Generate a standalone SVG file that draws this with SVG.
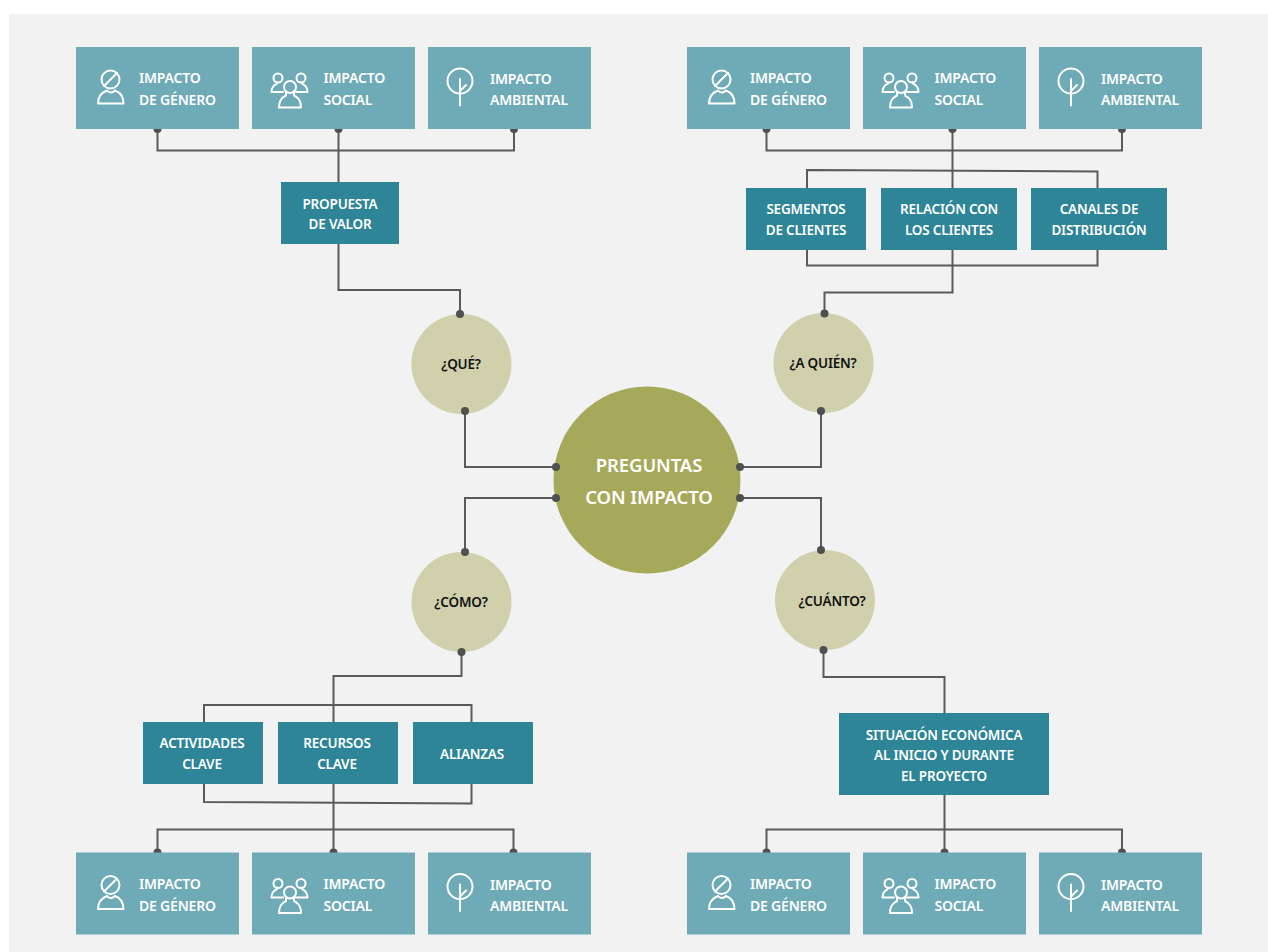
<svg xmlns="http://www.w3.org/2000/svg" width="1268" height="952" viewBox="0 0 1268 952">
<style>
text{font-family:"Noto Sans","Open Sans","Liberation Sans",sans-serif;font-weight:600;fill:#fff}
.i{font-size:14px;letter-spacing:-.2px}
.b{font-size:13.5px;text-anchor:middle;letter-spacing:-.2px}
.q{font-size:13.5px;text-anchor:middle;fill:#111;letter-spacing:-.2px}
.c{font-size:18.5px;text-anchor:middle;letter-spacing:-.1px}
.lt{fill:#6faab7}.dk{fill:#2d8597}.qc{fill:#d0d1ac}
.ic{fill:none;stroke:#fff;stroke-width:2;stroke-linejoin:round;stroke-linecap:round}
.ln{fill:none;stroke:#5a5a5a;stroke-width:2}
.dt{fill:#505050}
</style>
<defs>
<g id="icon-g" class="ic">
<circle cx="110.500" cy="79.500" r="9"/><path d="M104 86L117 73"/>
<path d="M98 103.500C98 95 103 92 107 90.500C109 93 112.500 93 115 90.500C119 92 123.500 95 123.500 103.500Z"/>
</g>
<g id="icon-s" class="ic">
<circle cx="278" cy="78" r="4.500"/><circle cx="301" cy="78" r="4.500"/><circle cx="290" cy="87" r="6"/>
<path d="M283 92H271.500C271.500 87 274 85.500 277 83.500V82M296 92H307.500C307.500 87 305 85.500 302 83.500V82"/>
<path d="M279 107.500C279 100 282 97.500 286 95.500V92M301 107.500C301 100 298 97.500 294 95.500V92M279 107.500H301"/>
</g>
<g id="icon-t" class="ic">
<circle cx="460" cy="81" r="12.500"/><path d="M460 105.500V79M460 91L466 85"/>
</g>
<g id="impact">
<rect class="lt" x="76" y="47" width="163" height="82"/>
<rect class="lt" x="252" y="47" width="163" height="82"/>
<rect class="lt" x="428" y="47" width="163" height="82"/>
<use href="#icon-g"/><use href="#icon-s"/><use href="#icon-t"/>
<text class="i" x="139" y="83">IMPACTO</text><text class="i" x="139" y="105">DE GÉNERO</text>
<text class="i" x="323.500" y="83">IMPACTO</text><text class="i" x="323.500" y="105">SOCIAL</text>
<text class="i" x="490" y="84">IMPACTO</text><text class="i" x="490" y="105">AMBIENTAL</text>
</g>
</defs>
<rect x="9" y="14" width="1259" height="938" fill="#f2f2f2"/>
<g id="connectors">
<path class="ln" d="M157.500 129V150.500H514V129M338.500 129V182M338.500 244V290H460V314"/>
<path class="ln" d="M465 411V467H556M556 498H465V552M461.500 652V676H333.500V722M204 722V705H471.500V722M204 784V802L471.500 803.500V784M333.500 784V852M157.500 852V829.500H513.500V852"/>
<path class="ln" d="M766.500 129V150.500H1122V129M952.500 129V188M807 188V170L1097.500 171.500V188M807 250V265.500H1097.500V250M952.500 250V292.500H824.500V313M821 411V467H740M740 498H821V550M823.500 650V677H944.500V713M944.500 795V852M766.500 852V829.500H1122V852"/>
<g class="dt">
<circle cx="157.500" cy="129" r="4"/><circle cx="338.500" cy="129" r="4"/><circle cx="514" cy="129" r="4"/>
<circle cx="766.500" cy="129" r="4"/><circle cx="952.500" cy="129" r="4"/><circle cx="1122" cy="129" r="4"/>
<circle cx="157.500" cy="852.500" r="4"/><circle cx="333.500" cy="852.500" r="4"/><circle cx="513.500" cy="852.500" r="4"/>
<circle cx="766.500" cy="852.500" r="4"/><circle cx="944.500" cy="852.500" r="4"/><circle cx="1122" cy="852.500" r="4"/>
</g>
</g>
<g id="impact-top-left"><use href="#impact"/></g>
<g id="impact-top-right"><use href="#impact" x="611"/></g>
<g id="impact-bottom-left"><use href="#impact" y="805.500"/></g>
<g id="impact-bottom-right"><use href="#impact" x="611" y="805.500"/></g>
<g id="propuesta"><rect class="dk" x="281" y="182" width="118" height="62"/><text class="b" x="340" y="209">PROPUESTA</text><text class="b" x="340" y="229">DE VALOR</text></g>
<g id="segmentos"><rect class="dk" x="746" y="188" width="120" height="62"/><text class="b" x="806" y="214">SEGMENTOS</text><text class="b" x="806" y="235">DE CLIENTES</text></g>
<g id="relacion"><rect class="dk" x="881" y="188" width="136" height="62"/><text class="b" x="949" y="214">RELACIÓN CON</text><text class="b" x="949" y="235">LOS CLIENTES</text></g>
<g id="canales"><rect class="dk" x="1031" y="188" width="136" height="62"/><text class="b" x="1099" y="214">CANALES DE</text><text class="b" x="1099" y="235">DISTRIBUCIÓN</text></g>
<g id="actividades"><rect class="dk" x="143" y="722" width="120" height="62"/><text class="b" x="202" y="748">ACTIVIDADES</text><text class="b" x="202" y="769">CLAVE</text></g>
<g id="recursos"><rect class="dk" x="278" y="722" width="120" height="62"/><text class="b" x="337" y="748">RECURSOS</text><text class="b" x="337" y="769">CLAVE</text></g>
<g id="alianzas"><rect class="dk" x="413" y="722" width="120" height="62"/><text class="b" x="472" y="759">ALIANZAS</text></g>
<g id="situacion"><rect class="dk" x="839" y="713" width="210" height="82"/><text class="b" x="944" y="740">SITUACIÓN ECONÓMICA</text><text class="b" x="944" y="760">AL INICIO Y DURANTE</text><text class="b" x="944" y="781">EL PROYECTO</text></g>
<g id="que"><circle class="qc" cx="461.500" cy="364" r="50"/><text class="q" x="461" y="369">¿QUÉ?</text><circle class="dt" cx="460" cy="314" r="4"/><circle class="dt" cx="465" cy="411" r="4"/></g>
<g id="quien"><circle class="qc" cx="823.500" cy="363" r="50"/><text class="q" x="823" y="368">¿A QUIÉN?</text><circle class="dt" cx="824.500" cy="313.500" r="4"/><circle class="dt" cx="821" cy="411" r="4"/></g>
<g id="como"><circle class="qc" cx="461.500" cy="602" r="50"/><text class="q" x="461" y="607">¿CÓMO?</text><circle class="dt" cx="465" cy="552" r="4"/><circle class="dt" cx="461.500" cy="652" r="4"/></g>
<g id="cuanto"><circle class="qc" cx="825" cy="600" r="50"/><text class="q" x="832" y="606">¿CUÁNTO?</text><circle class="dt" cx="821" cy="550" r="4"/><circle class="dt" cx="823.500" cy="650" r="4"/></g>
<g id="centro"><circle cx="647" cy="480" r="93.500" fill="#a7a95a"/><text class="c" x="649" y="472">PREGUNTAS</text><text class="c" x="649" y="504">CON IMPACTO</text>
<circle class="dt" cx="556" cy="467" r="4"/><circle class="dt" cx="556" cy="498" r="4"/><circle class="dt" cx="740" cy="467" r="4"/><circle class="dt" cx="740" cy="498" r="4"/></g>
</svg>
